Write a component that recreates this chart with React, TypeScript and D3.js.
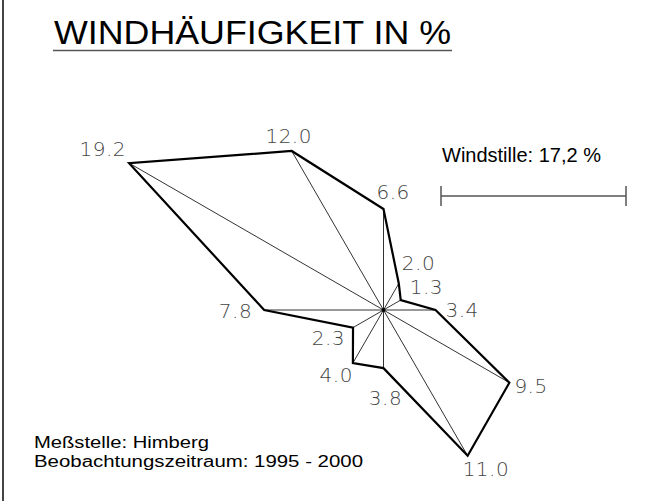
import React, { useEffect, useRef } from "react";
import * as d3 from "d3";

// wind directions, clockwise from north, 30° apart
const directions = ["N", "NNO", "ONO", "O", "OSO", "SSO", "S", "SSW", "WSW", "W", "WNW", "NNW"];
const frequencies = [6.6, 2.0, 1.3, 3.4, 9.5, 11.0, 3.8, 4.0, 2.3, 7.8, 19.2, 12.0];
const calm = "17,2";
const title = "WINDHÄUFIGKEIT IN %";
const footer = ["Meßstelle: Himberg", "Beobachtungszeitraum: 1995 - 2000"];
const footerWidths = [175, 329];

// hand placement of the value labels next to each vertex
const labelNudge: [number, number, string][] = [
  [-7, -10, "start"],
  [3, -13, "start"],
  [9, -6, "start"],
  [10, 7, "start"],
  [5, 10, "start"],
  [-5, 20, "start"],
  [2, 37, "middle"],
  [0, 19, "end"],
  [-8, 17, "end"],
  [-12, 8, "end"],
  [-3, -7, "end"],
  [-3, -8, "middle"],
];

const W = 647;
const H = 503;

export default function App() {
  const svgRef = useRef<SVGSVGElement>(null);

  useEffect(() => {
    if (!svgRef.current) return;
    const svg = d3.select(svgRef.current);
    svg.selectAll("*").remove();

    const cx = 383.5;
    const cy = 310;

    const r = d3.scaleLinear().domain([0, 20]).range([0, 306]);
    const angle = d3.scaleLinear().domain([0, directions.length]).range([0, 2 * Math.PI]);

    const pts = frequencies.map((v, i) => {
      const a = angle(i);
      return {
        v,
        i,
        x: cx + Math.sin(a) * r(v),
        y: cy - Math.cos(a) * r(v),
      };
    });

    // left frame line
    svg.append("line")
      .attr("x1", 3).attr("y1", 0)
      .attr("x2", 3).attr("y2", 501)
      .attr("stroke", "#444").attr("stroke-width", 2);

    // title
    svg.append("text")
      .attr("x", 54).attr("y", 44)
      .attr("font-family", "'Liberation Sans', Arial, sans-serif")
      .attr("font-size", 34)
      .attr("textLength", 397)
      .attr("lengthAdjust", "spacingAndGlyphs")
      .attr("fill", "#000")
      .text(title);
    svg.append("line")
      .attr("x1", 53).attr("y1", 50.5)
      .attr("x2", 452).attr("y2", 50.5)
      .attr("stroke", "#555").attr("stroke-width", 1.5);

    const g = svg.append("g").attr("transform", `translate(${cx},${cy})`);

    // spokes
    g.selectAll("line.spoke")
      .data(pts)
      .enter()
      .append("line")
      .attr("class", "spoke")
      .attr("x1", 0).attr("y1", 0)
      .attr("x2", d => d.x - cx).attr("y2", d => d.y - cy)
      .attr("stroke", "#333")
      .attr("stroke-width", 1);

    // polygon
    const radial = d3.lineRadial<number>()
      .angle((_, i) => angle(i))
      .radius(d => r(d))
      .curve(d3.curveLinearClosed);

    g.append("path")
      .attr("d", radial(frequencies))
      .attr("fill", "none")
      .attr("stroke", "#000")
      .attr("stroke-width", 2.2)
      .attr("stroke-linejoin", "miter");

    g.append("circle").attr("r", 2).attr("fill", "#000");

    // value labels
    svg.selectAll("text.val")
      .data(pts)
      .enter()
      .append("text")
      .attr("class", "val")
      .attr("x", d => d.x + labelNudge[d.i][0])
      .attr("y", d => d.y + labelNudge[d.i][1])
      .attr("text-anchor", d => labelNudge[d.i][2])
      .attr("font-family", "'DejaVu Sans', sans-serif")
      .attr("font-weight", 200)
      .attr("font-size", 20)
      .attr("letter-spacing", 0.5)
      .attr("fill", "#444")
      .text(d => d.v.toFixed(1));

    // calm
    svg.append("text")
      .attr("x", 442).attr("y", 162)
      .attr("font-family", "'Liberation Sans', Arial, sans-serif")
      .attr("font-size", 20)
      .attr("fill", "#000")
      .text(`Windstille: ${calm} %`);

    const bar = svg.append("g").attr("stroke", "#555").attr("stroke-width", 1.5);
    bar.append("line").attr("x1", 441).attr("x2", 626).attr("y1", 196).attr("y2", 196);
    bar.append("line").attr("x1", 441).attr("x2", 441).attr("y1", 186).attr("y2", 206);
    bar.append("line").attr("x1", 626).attr("x2", 626).attr("y1", 186).attr("y2", 206);

    // footer
    svg.selectAll("text.foot")
      .data(footer)
      .enter()
      .append("text")
      .attr("class", "foot")
      .attr("x", 34)
      .attr("y", (_, i) => 448 + i * 18.5)
      .attr("font-family", "'Liberation Sans', Arial, sans-serif")
      .attr("font-size", 16)
      .attr("textLength", (_, i) => footerWidths[i])
      .attr("lengthAdjust", "spacingAndGlyphs")
      .attr("fill", "#000")
      .text(d => d);
  }, []);

  return (
    <div style={{ position: "fixed", left: 0, top: 0, width: W, height: H, background: "#fff" }}>
      <svg ref={svgRef} width={W} height={H} />
    </div>
  );
}
